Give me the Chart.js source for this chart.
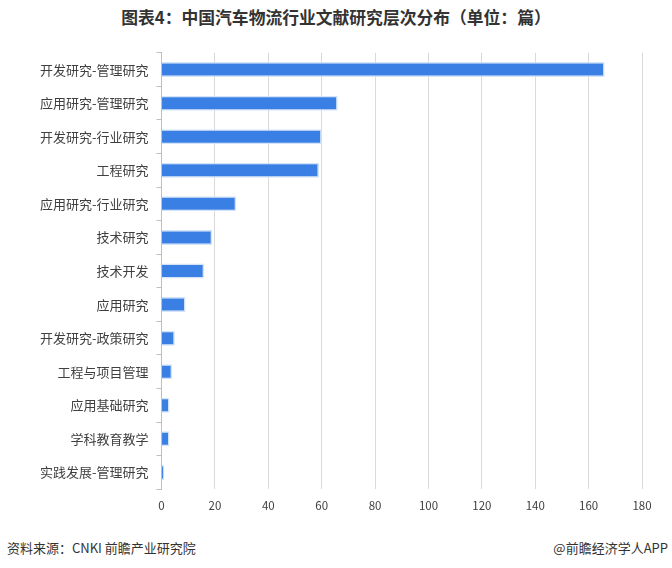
<!DOCTYPE html>
<html>
<head>
<meta charset="utf-8">
<script src="https://cdn.jsdelivr.net/npm/chart.js@4/dist/chart.umd.min.js"></script>
<style>
html,body{margin:0;padding:0;background:#fff;}
#wrap{position:relative;width:672px;height:568px;overflow:hidden;font-family:"Noto Sans CJK SC","Noto Sans",sans-serif;}
#title{position:absolute;left:0;top:5px;width:672px;text-align:center;font-size:16.8px;font-weight:bold;color:#333;}
#src{position:absolute;left:7px;top:538px;font-size:13px;color:#333;}
#app{position:absolute;right:4px;top:538px;font-size:13px;color:#333;}
#cv{position:absolute;left:0;top:37px;}
</style>
</head>
<body>
<div id="wrap">
  <div id="title">图表4：中国汽车物流行业文献研究层次分布（单位：篇）</div>
  <canvas id="cv" width="672" height="486"></canvas>
  <div id="src">资料来源：CNKI 前瞻产业研究院</div>
  <div id="app">@前瞻经济学人APP</div>
</div>
<script>
const categories = ["开发研究-管理研究","应用研究-管理研究","开发研究-行业研究","工程研究","应用研究-行业研究","技术研究","技术开发","应用研究","开发研究-政策研究","工程与项目管理","应用基础研究","学科教育教学","实践发展-管理研究"];
const values = [166, 66, 60, 59, 28, 19, 16, 9, 5, 4, 3, 3, 1];
const xTicks = [0, 20, 40, 60, 80, 100, 120, 140, 160, 180];

new Chart(document.getElementById('cv'), {
  type: 'bar',
  data: {
    labels: categories,
    datasets: [{
      data: values,
      backgroundColor: '#3a80e4',
      borderColor: '#d3e4f7',
      borderWidth: 1.5,
      borderSkipped: 'start',
      barThickness: 15,
      inflateAmount: 0
    }]
  },
  options: {
    indexAxis: 'y',
    responsive: false,
    animation: false,
    layout: { padding: { left: 32, right: 30, top: 8, bottom: 0 } },
    plugins: { legend: { display: false }, tooltip: { enabled: false } },
    scales: {
      x: {
        min: 0, max: 180,
        afterBuildTicks: (ax) => { ax.ticks = xTicks.map(v => ({ value: v })); },
        grid: { color: '#d9d9d9', drawTicks: false, lineWidth: 1 },
        border: { display: false },
        ticks: { color: '#404040', font: { size: 11.5, family: '"Noto Sans CJK SC", sans-serif' }, padding: 10 }
      },
      y: {
        grid: { offset: true, drawOnChartArea: false, drawTicks: true, tickLength: 5, color: '#bfbfbf' },
        border: { display: true, color: '#bfbfbf' },
        ticks: { color: '#404040', font: { size: 13, family: '"Noto Sans CJK SC", sans-serif' }, padding: 8 }
      }
    }
  }
});
</script>
</body>
</html>
